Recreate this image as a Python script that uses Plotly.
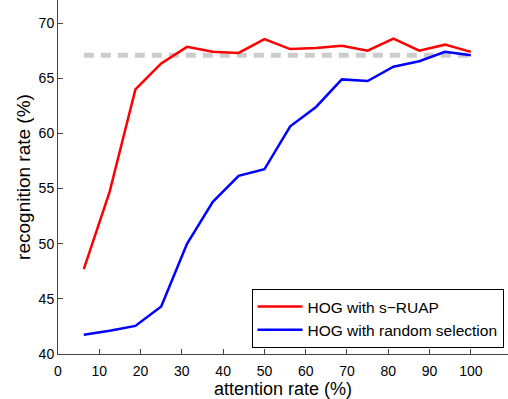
import plotly.graph_objects as go

attention = [6.25, 12.5, 18.75, 25, 31.25, 37.5, 43.75, 50, 56.25, 62.5, 68.75, 75, 81.25, 87.5, 93.75, 100]
ruap = [47.7, 54.7, 64.0, 66.35, 67.85, 67.4, 67.3, 68.55, 67.65, 67.75, 67.95, 67.5, 68.6, 67.5, 68.05, 67.4]
random_sel = [41.75, 42.1, 42.55, 44.3, 50.0, 53.8, 56.15, 56.75, 60.65, 62.4, 64.9, 64.75, 66.05, 66.55, 67.4, 67.1]
baseline_x = [6.25, 100]
baseline_y = [67.1, 67.1]

fig = go.Figure()
fig.add_trace(go.Scatter(x=baseline_x, y=baseline_y, mode="lines",
                         line=dict(color="#cccccc", width=5, dash="10px,7px"),
                         showlegend=False, hoverinfo="skip"))
fig.add_trace(go.Scatter(x=attention, y=ruap, mode="lines", name="HOG with s\u2212RUAP",
                         line=dict(color="#ff0000", width=2.5)))
fig.add_trace(go.Scatter(x=attention, y=random_sel, mode="lines", name="HOG with random selection",
                         line=dict(color="#0000ff", width=2.5)))

fig.update_layout(
    width=508, height=399,
    margin=dict(l=58, r=0, t=0, b=45, autoexpand=False),
    plot_bgcolor="white", paper_bgcolor="white",
    font=dict(family="Liberation Sans, Arial, sans-serif", size=14, color="black"),
    legend=dict(x=0.43, y=0.017, xanchor="left", yanchor="bottom",
                bordercolor="black", borderwidth=1, bgcolor="white",
                font=dict(size=15.5), tracegroupgap=0, itemwidth=45),
)
fig.update_xaxes(range=[0, 109], tickvals=list(range(0, 101, 10)), automargin=False,
                 showline=True, linecolor="#444", linewidth=1, mirror=False,
                 ticks="inside", ticklen=5, tickcolor="#444", showgrid=False, zeroline=False,
                 ticklabelstandoff=4,
                 title=dict(text="attention rate (%)", font=dict(size=18), standoff=0))
fig.update_yaxes(range=[40, 72.1], tickvals=list(range(40, 71, 5)), automargin=False,
                 showline=True, linecolor="#444", linewidth=1, mirror=False,
                 ticks="inside", ticklen=5, tickcolor="#444", showgrid=False, zeroline=False,
                 title=dict(text="recognition rate (%)", font=dict(size=19), standoff=2))

fig.write_html("out.html", config={"displayModeBar": False},
               post_script="document.body.style.margin='0';")
